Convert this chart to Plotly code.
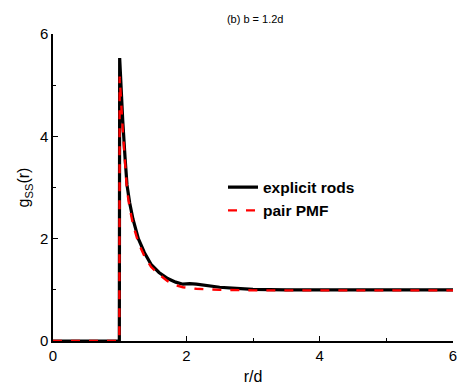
import plotly.graph_objects as go

# explicit rods g_ss(r)
r_rods = [0.0, 0.995, 1.0, 1.02, 1.045, 1.08, 1.11, 1.15, 1.2, 1.28, 1.37, 1.47, 1.59, 1.72,
          1.84, 1.95, 2.05, 2.15, 2.3, 2.5, 2.75, 3.0, 3.5, 4.0, 4.5, 5.0, 5.25, 5.5, 6.0]
g_rods = [0.0, 0.0, 5.53, 4.9, 4.33, 3.6, 3.05, 2.7, 2.38, 2.0, 1.73, 1.5, 1.34, 1.22,
          1.15, 1.11, 1.12, 1.11, 1.08, 1.05, 1.03, 1.01, 1.0, 1.0, 1.0, 1.01, 1.01, 1.0, 1.0]

# pair PMF g_ss(r)
r_pmf = [0.0, 0.995, 1.0, 1.02, 1.045, 1.08, 1.11, 1.15, 1.2, 1.28, 1.37, 1.47, 1.59, 1.72,
         1.84, 1.95, 2.05, 2.15, 2.3, 2.5, 3.0, 3.5, 4.0, 5.0, 6.0]
g_pmf = [0.0, 0.0, 5.17, 4.62, 4.15, 3.5, 2.95, 2.6, 2.28, 1.92, 1.66, 1.45, 1.3, 1.17,
         1.09, 1.05, 1.03, 1.02, 1.01, 1.0, 0.99, 0.99, 0.99, 0.99, 0.99]

x_ticks = [0, 2, 4, 6]
y_ticks = [0, 2, 4, 6]

FONT = "Liberation Sans, Arial, sans-serif"

fig = go.Figure()
fig.add_trace(go.Scatter(x=r_rods, y=g_rods, mode="lines", name="explicit rods",
                         line=dict(color="black", width=3.2)))
fig.add_trace(go.Scatter(x=r_pmf, y=g_pmf, mode="lines", name="pair PMF",
                         line=dict(color="red", width=2.4, dash="dash")))

axis_common = dict(showgrid=False, zeroline=False, showline=True, linecolor="black",
                   linewidth=1.5, ticks="inside", ticklen=5, tickwidth=1, tickcolor="black",
                   mirror=False, tickfont=dict(size=15, color="black", family=FONT),
                   tickmode="linear", tick0=0, dtick=2,
                   minor=dict(ticks="inside", ticklen=3, tickwidth=1, tickcolor="black",
                              tickmode="linear", tick0=0, dtick=1))

fig.update_xaxes(range=[0, 6],
                 title=dict(text="r/d", font=dict(size=16, color="black", family=FONT), standoff=8),
                 **axis_common)
fig.update_yaxes(range=[0, 6],
                 title=dict(text="g<sub>SS</sub>(r)", font=dict(size=16, color="black", family=FONT), standoff=6),
                 **axis_common)

fig.update_layout(
    width=464, height=390,
    margin=dict(l=53, r=7, t=34, b=48),
    paper_bgcolor="white", plot_bgcolor="white",
    title=dict(text="(b) b = 1.2d", x=0.55, xanchor="center", y=0.952, yanchor="middle",
               font=dict(size=11, color="black", family=FONT)),
    legend=dict(x=0.425, y=0.555, xanchor="left", yanchor="top", bgcolor="rgba(0,0,0,0)",
                font=dict(size=15.5, color="black", family="Liberation Sans, Arial", weight="bold"),
                itemwidth=30, tracegroupgap=0),
    showlegend=True,
)

fig.write_html("out.html")
